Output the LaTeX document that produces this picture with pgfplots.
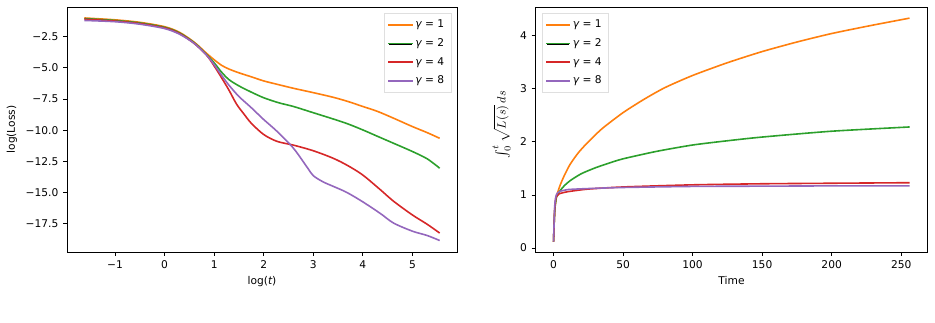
\documentclass[border=0pt]{standalone}
\usepackage{pgfplots}
\pgfplotsset{compat=1.18}
\usepackage{fontspec}
\setmainfont{DejaVu Sans}
\definecolor{tabOrange}{HTML}{FF7F0E}
\definecolor{tabGreen}{HTML}{2CA02C}
\definecolor{tabRed}{HTML}{D62728}
\definecolor{tabPurple}{HTML}{9467BD}
\pgfplotsset{
  mpl/.style={
    scale only axis,
    width=292.5pt, height=183.75pt,
    axis line style={line width=0.6pt},
    tick align=outside,
    major tick length=3pt,
    tick style={black, line width=0.6pt},
    xtick pos=bottom, ytick pos=left,
    font=\fontsize{8}{9.5}\selectfont,
    /pgf/number format/assume math mode=true,
    legend cell align=left,
    legend style={fill=white, draw=gray!25, inner sep=3pt, row sep=2.6pt},
    legend image code/.code={\fill[##1, fill=.] (0cm,-0.05pt) rectangle (0.6cm,0.05pt);},
  },
  lo/.style={draw=tabOrange, line width=1.2pt},
  lg/.style={draw=tabGreen, line width=1.2pt},
  lr/.style={draw=tabRed, line width=1.2pt},
  lp/.style={draw=tabPurple, line width=1.2pt},
}
\begin{document}
\begin{tikzpicture}
\useasboundingbox (0,0) rectangle (701.25pt,242.25pt);
% ---------------- left axis
\begin{axis}[mpl,
  at={(50.25pt,53.25pt)}, anchor=south west,
  xmin=-1.97, xmax=5.90, ymin=-19.77, ymax=-0.12,
  xtick={-1,0,1,2,3,4,5},
  xticklabels={−1,0,1,2,3,4,5},
  ytick={-17.5,-15,-12.5,-10,-7.5,-5,-2.5},
  yticklabels={−17.5,−15.0,−12.5,−10.0,−7.5,−5.0,−2.5},
  xlabel={log({\itshape t})},
  ylabel={log(Loss)},
  xlabel style={at={(axis description cs:0.5,-0.122)}, anchor=center},
  ylabel style={at={(axis description cs:-0.141,0.5)}, anchor=center},
  legend style={at={(0.985,0.975)}, anchor=north east},
]
\addplot[lo, smooth] coordinates {
(-1.62,-1.0) (-1.0,-1.15) (-0.5,-1.35) (0.0,-1.7) (0.3,-2.15) (0.6,-2.95)
(0.85,-3.85) (1.0,-4.35) (1.15,-4.8) (1.3,-5.1) (1.5,-5.4) (1.75,-5.72)
(2.0,-6.05) (2.3,-6.35) (2.6,-6.64) (3.0,-6.99) (3.4,-7.36) (3.7,-7.7)
(4.0,-8.1) (4.3,-8.5) (4.62,-9.04) (5.0,-9.71) (5.3,-10.2) (5.55,-10.65)};
\addlegendentry{{\itshape γ} = 1}
\addplot[lg, smooth] coordinates {
(-1.62,-1.05) (-1.0,-1.2) (-0.5,-1.4) (0.0,-1.75) (0.3,-2.2) (0.6,-3.0)
(0.85,-3.95) (1.0,-4.6) (1.15,-5.35) (1.3,-5.95) (1.5,-6.45) (1.75,-6.95)
(2.0,-7.4) (2.3,-7.8) (2.6,-8.1) (3.0,-8.6) (3.4,-9.1) (3.7,-9.5)
(4.0,-9.98) (4.3,-10.5) (4.62,-11.05) (5.0,-11.71) (5.3,-12.3) (5.55,-13.05)};
\addlegendentry{{\itshape γ} = 2}
\addplot[lr, smooth] coordinates {
(-1.62,-1.1) (-1.0,-1.25) (-0.5,-1.45) (0.0,-1.8) (0.3,-2.25) (0.6,-3.05)
(0.85,-4.0) (1.0,-4.85) (1.15,-5.8) (1.3,-6.8) (1.45,-7.9) (1.6,-8.7)
(1.75,-9.45) (2.0,-10.35) (2.27,-10.9) (2.6,-11.2) (3.0,-11.65) (3.4,-12.25)
(3.7,-12.85) (4.0,-13.6) (4.36,-14.8) (4.62,-15.7) (5.0,-16.8) (5.3,-17.55) (5.55,-18.25)};
\addlegendentry{{\itshape γ} = 4}
\addplot[lp, smooth] coordinates {
(-1.62,-1.2) (-1.0,-1.3) (-0.5,-1.5) (0.0,-1.85) (0.3,-2.3) (0.6,-3.05)
(0.85,-4.0) (1.0,-4.75) (1.15,-5.6) (1.3,-6.4) (1.5,-7.3) (1.75,-8.2)
(2.0,-9.15) (2.27,-10.1) (2.6,-11.45) (2.88,-13.0) (3.0,-13.65) (3.2,-14.15)
(3.4,-14.5) (3.68,-15.0) (4.0,-15.75) (4.36,-16.7) (4.62,-17.45) (5.0,-18.1)
(5.3,-18.45) (5.55,-18.85)};
\addlegendentry{{\itshape γ} = 8}
\end{axis}
% ---------------- right axis
\begin{axis}[mpl,
  at={(401.8pt,53.25pt)}, anchor=south west, width=293.7pt,
  xmin=-12.8, xmax=268.8, ymin=-0.075, ymax=4.54,
  xtick={0,50,100,150,200,250},
  ytick={0,1,2,3,4},
  xlabel={Time},
  ylabel={\fontsize{9.5}{11}\selectfont$\int_0^t \sqrt{L(s)}\,ds$},
  xlabel style={at={(axis description cs:0.5,-0.118)}, anchor=center},
  ylabel style={at={(axis description cs:-0.087,0.52)}, anchor=center},
  legend style={at={(0.015,0.975)}, anchor=north west},
]
\addplot[lo, smooth, tension=0.4] coordinates {
(0,0.12) (0.5,0.5) (1,0.75) (2,0.95) (3,1.05) (5,1.2) (8,1.38) (12,1.58)
(18,1.8) (25,2.0) (35,2.25) (50,2.55) (65,2.8) (80,3.02) (100,3.25)
(125,3.49) (150,3.7) (175,3.88) (200,4.04) (228,4.19) (256,4.33)};
\addlegendentry{{\itshape γ} = 1}
\addplot[lg, smooth, tension=0.4] coordinates {
(0,0.12) (0.5,0.5) (1,0.75) (2,0.95) (3,1.01) (5,1.09) (8,1.18) (12,1.27)
(20,1.4) (30,1.51) (40,1.6) (50,1.68) (74,1.82) (100,1.94) (125,2.02)
(150,2.09) (200,2.2) (256,2.28)};
\addlegendentry{{\itshape γ} = 2}
\addplot[lr, smooth, tension=0.4] coordinates {
(0,0.12) (0.5,0.5) (1,0.8) (2,0.97) (4,1.02) (10,1.06) (25,1.11) (50,1.15)
(100,1.19) (150,1.21) (200,1.22) (256,1.23)};
\addlegendentry{{\itshape γ} = 4}
\addplot[lp, smooth, tension=0.4] coordinates {
(0,0.12) (0.5,0.55) (1,0.85) (2,1.0) (4,1.06) (10,1.1) (25,1.12) (50,1.14)
(100,1.16) (150,1.165) (200,1.17) (256,1.17)};
\addlegendentry{{\itshape γ} = 8}
\end{axis}
\end{tikzpicture}
\end{document}
